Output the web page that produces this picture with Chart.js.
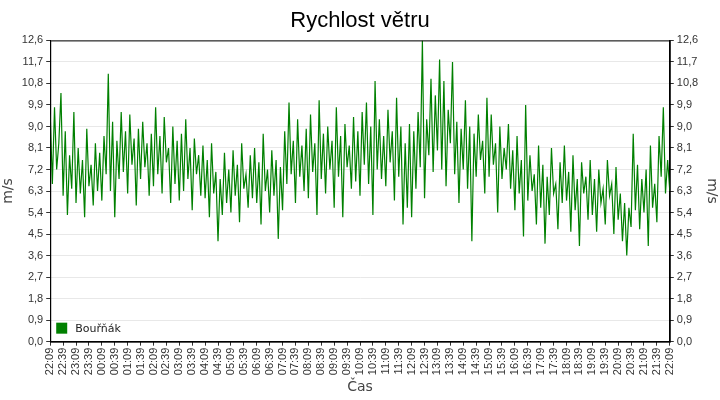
<!DOCTYPE html>
<html><head><meta charset="utf-8">
<script src="https://cdn.jsdelivr.net/npm/chart.js@4/dist/chart.umd.min.js"></script>
<style>body{margin:0;background:#fff}#w{width:720px;height:400px}</style>
</head><body><div id="w"><canvas id="c"></canvas></div>
<script>
const seriesName = "Bouřňák";
const stepMinutes = 5;
const speeds = [
9.5,6.6,9.8,7.2,8.3,10.4,6.1,8.8,5.3,7.8,6.4,9.6,
5.8,8.1,6.2,7.6,5.2,8.9,6.5,7.4,5.7,8.3,6.3,7.9,
5.9,8.6,7.0,11.2,6.3,9.2,5.2,8.4,6.8,9.6,7.1,8.8,
6.2,9.5,7.4,8.5,5.7,8.9,6.8,9.2,7.3,8.3,6.1,8.7,
6.5,9.8,7.0,8.6,6.2,9.4,7.5,8.1,5.8,9.0,6.6,8.4,
5.9,8.7,6.3,9.3,6.8,8.1,5.5,8.5,7.0,7.8,6.1,8.2,
6.0,7.6,5.2,8.3,6.2,7.1,4.2,6.8,5.3,7.9,5.8,7.2,
5.4,8.0,6.1,7.4,5.0,8.3,6.4,7.0,5.6,7.8,6.0,8.1,
5.8,7.5,4.9,8.7,6.3,7.2,5.4,8.0,6.1,7.6,4.3,7.3,
5.5,8.8,6.6,10.0,7.0,8.4,5.8,9.3,6.9,8.2,6.3,8.9,
6.0,9.5,7.1,8.3,5.3,10.1,6.8,8.7,6.2,9.0,7.2,8.4,
5.6,9.8,6.9,8.6,5.2,9.1,7.3,8.2,6.4,9.4,6.7,8.8,
6.1,9.6,7.4,10.0,6.6,9.0,5.3,10.9,7.2,9.3,6.8,8.6,
6.5,9.7,7.5,8.8,5.9,10.2,6.9,9.0,4.9,8.3,5.6,9.1,
5.2,8.8,6.4,9.6,7.3,12.6,6.0,9.3,7.8,11.0,7.1,10.3,
8.0,11.8,7.2,10.9,6.5,9.7,8.3,11.7,7.0,9.2,5.8,8.9,
7.2,10.1,6.4,9.0,4.2,8.7,6.9,9.5,7.6,8.4,6.2,10.2,
6.9,9.5,7.4,8.3,5.4,9.0,6.8,8.1,7.2,9.1,6.4,8.0,
5.5,8.6,6.2,7.6,4.4,9.9,5.9,7.8,6.3,7.0,4.9,8.2,
5.6,7.4,4.1,6.9,5.3,8.1,6.2,6.6,4.7,7.5,5.8,8.2,
5.9,7.1,4.6,7.8,5.5,6.8,4.0,7.5,6.2,6.9,5.1,7.6,
5.3,6.8,4.6,7.2,5.8,6.4,4.9,7.6,6.1,6.6,4.5,7.3,
5.1,6.2,4.2,5.8,3.6,5.6,4.8,8.7,5.5,7.4,4.7,6.8,
5.4,7.2,4.0,8.2,5.6,6.6,5.0,8.6,6.9,9.8,6.2,7.6,
6.3];
const timeLabels = ["22:09","22:39","23:09","23:39","00:09","00:39","01:09","01:39","02:09","02:39","03:09","03:39","04:09","04:39","05:09","05:39","06:09","06:39","07:09","07:39","08:09","08:39","09:09","09:39","10:09","10:39","11:09","11:39","12:09","12:39","13:09","13:39","14:09","14:39","15:09","15:39","16:09","16:39","17:09","17:39","18:09","18:39","19:09","19:39","20:09","20:39","21:09","21:39","22:09"];

const pts = speeds.map((v,i)=>({x:i*stepMinutes,y:v}));
const F = "'Liberation Sans', Arial, sans-serif";
const FD = "'DejaVu Sans', sans-serif";
const yFmt = v => v.toFixed(1).replace('.',',');
const yAxis = (pos) => ({
  position:pos, min:0, max:12.6,
  afterBuildTicks: s => { s.ticks = []; for(let i=0;i<=14;i++) s.ticks.push({value:+(i*0.9).toFixed(1)}); },
  ticks:{callback:yFmt, color:'#333', font:{family:F,size:11}, padding:3},
  grid:{color:'#e8e8e8', drawOnChartArea: pos==='left', tickColor:'#333', tickLength:4},
  border:{color:'#000', width:1},
  title:{display:true, text:'m/s', color:'#444', font:{family:FD,size:14}, padding:{top:0,bottom:2}}
});
const legendPlugin = {
  id:'lg',
  afterDraw(ch){
    const c=ch.ctx, a=ch.chartArea;
    c.save();
    c.fillStyle='#008000'; c.fillRect(a.left+6, a.bottom-19, 11, 11);
    c.fillStyle='#222'; c.font="11px "+FD; c.textBaseline='middle';
    c.fillText(seriesName, a.left+25, a.bottom-13);
    c.strokeStyle='#000'; c.lineWidth=1;
    c.strokeRect(a.left+0.5,a.top+0.5,a.right-a.left,a.bottom-a.top);
    c.restore();
  }
};
new Chart(document.getElementById('c'),{
  type:'line',
  data:{datasets:[{label:seriesName,data:pts,borderColor:'#008000',borderWidth:1.2,pointRadius:0,tension:0,fill:false}]},
  options:{
    responsive:true, maintainAspectRatio:false, animation:false,
    layout:{padding:{top:0,right:0,left:0,bottom:4}},
    plugins:{legend:{display:false},tooltip:{enabled:false},
      title:{display:true,text:'Rychlost větru',color:'#000',font:{family:F,size:22,weight:'normal'},padding:{top:8,bottom:6}}},
    scales:{
      x:{type:'linear',min:0,max:1440,
        afterBuildTicks: s => { s.ticks = timeLabels.map((t,i)=>({value:i*30})); },
        ticks:{callback:(v)=>timeLabels[Math.round(v/30)], maxRotation:90, minRotation:90, autoSkip:false, color:'#333', font:{family:F,size:11}, padding:2},
        grid:{drawOnChartArea:false, tickColor:'#333', tickLength:4},
        border:{color:'#000'},
        title:{display:true,text:'Čas',color:'#444',font:{family:FD,size:14},padding:{top:2,bottom:0}}},
      y:yAxis('left'),
      y2:yAxis('right')
    }
  },
  plugins:[legendPlugin]
});
</script></body></html>
